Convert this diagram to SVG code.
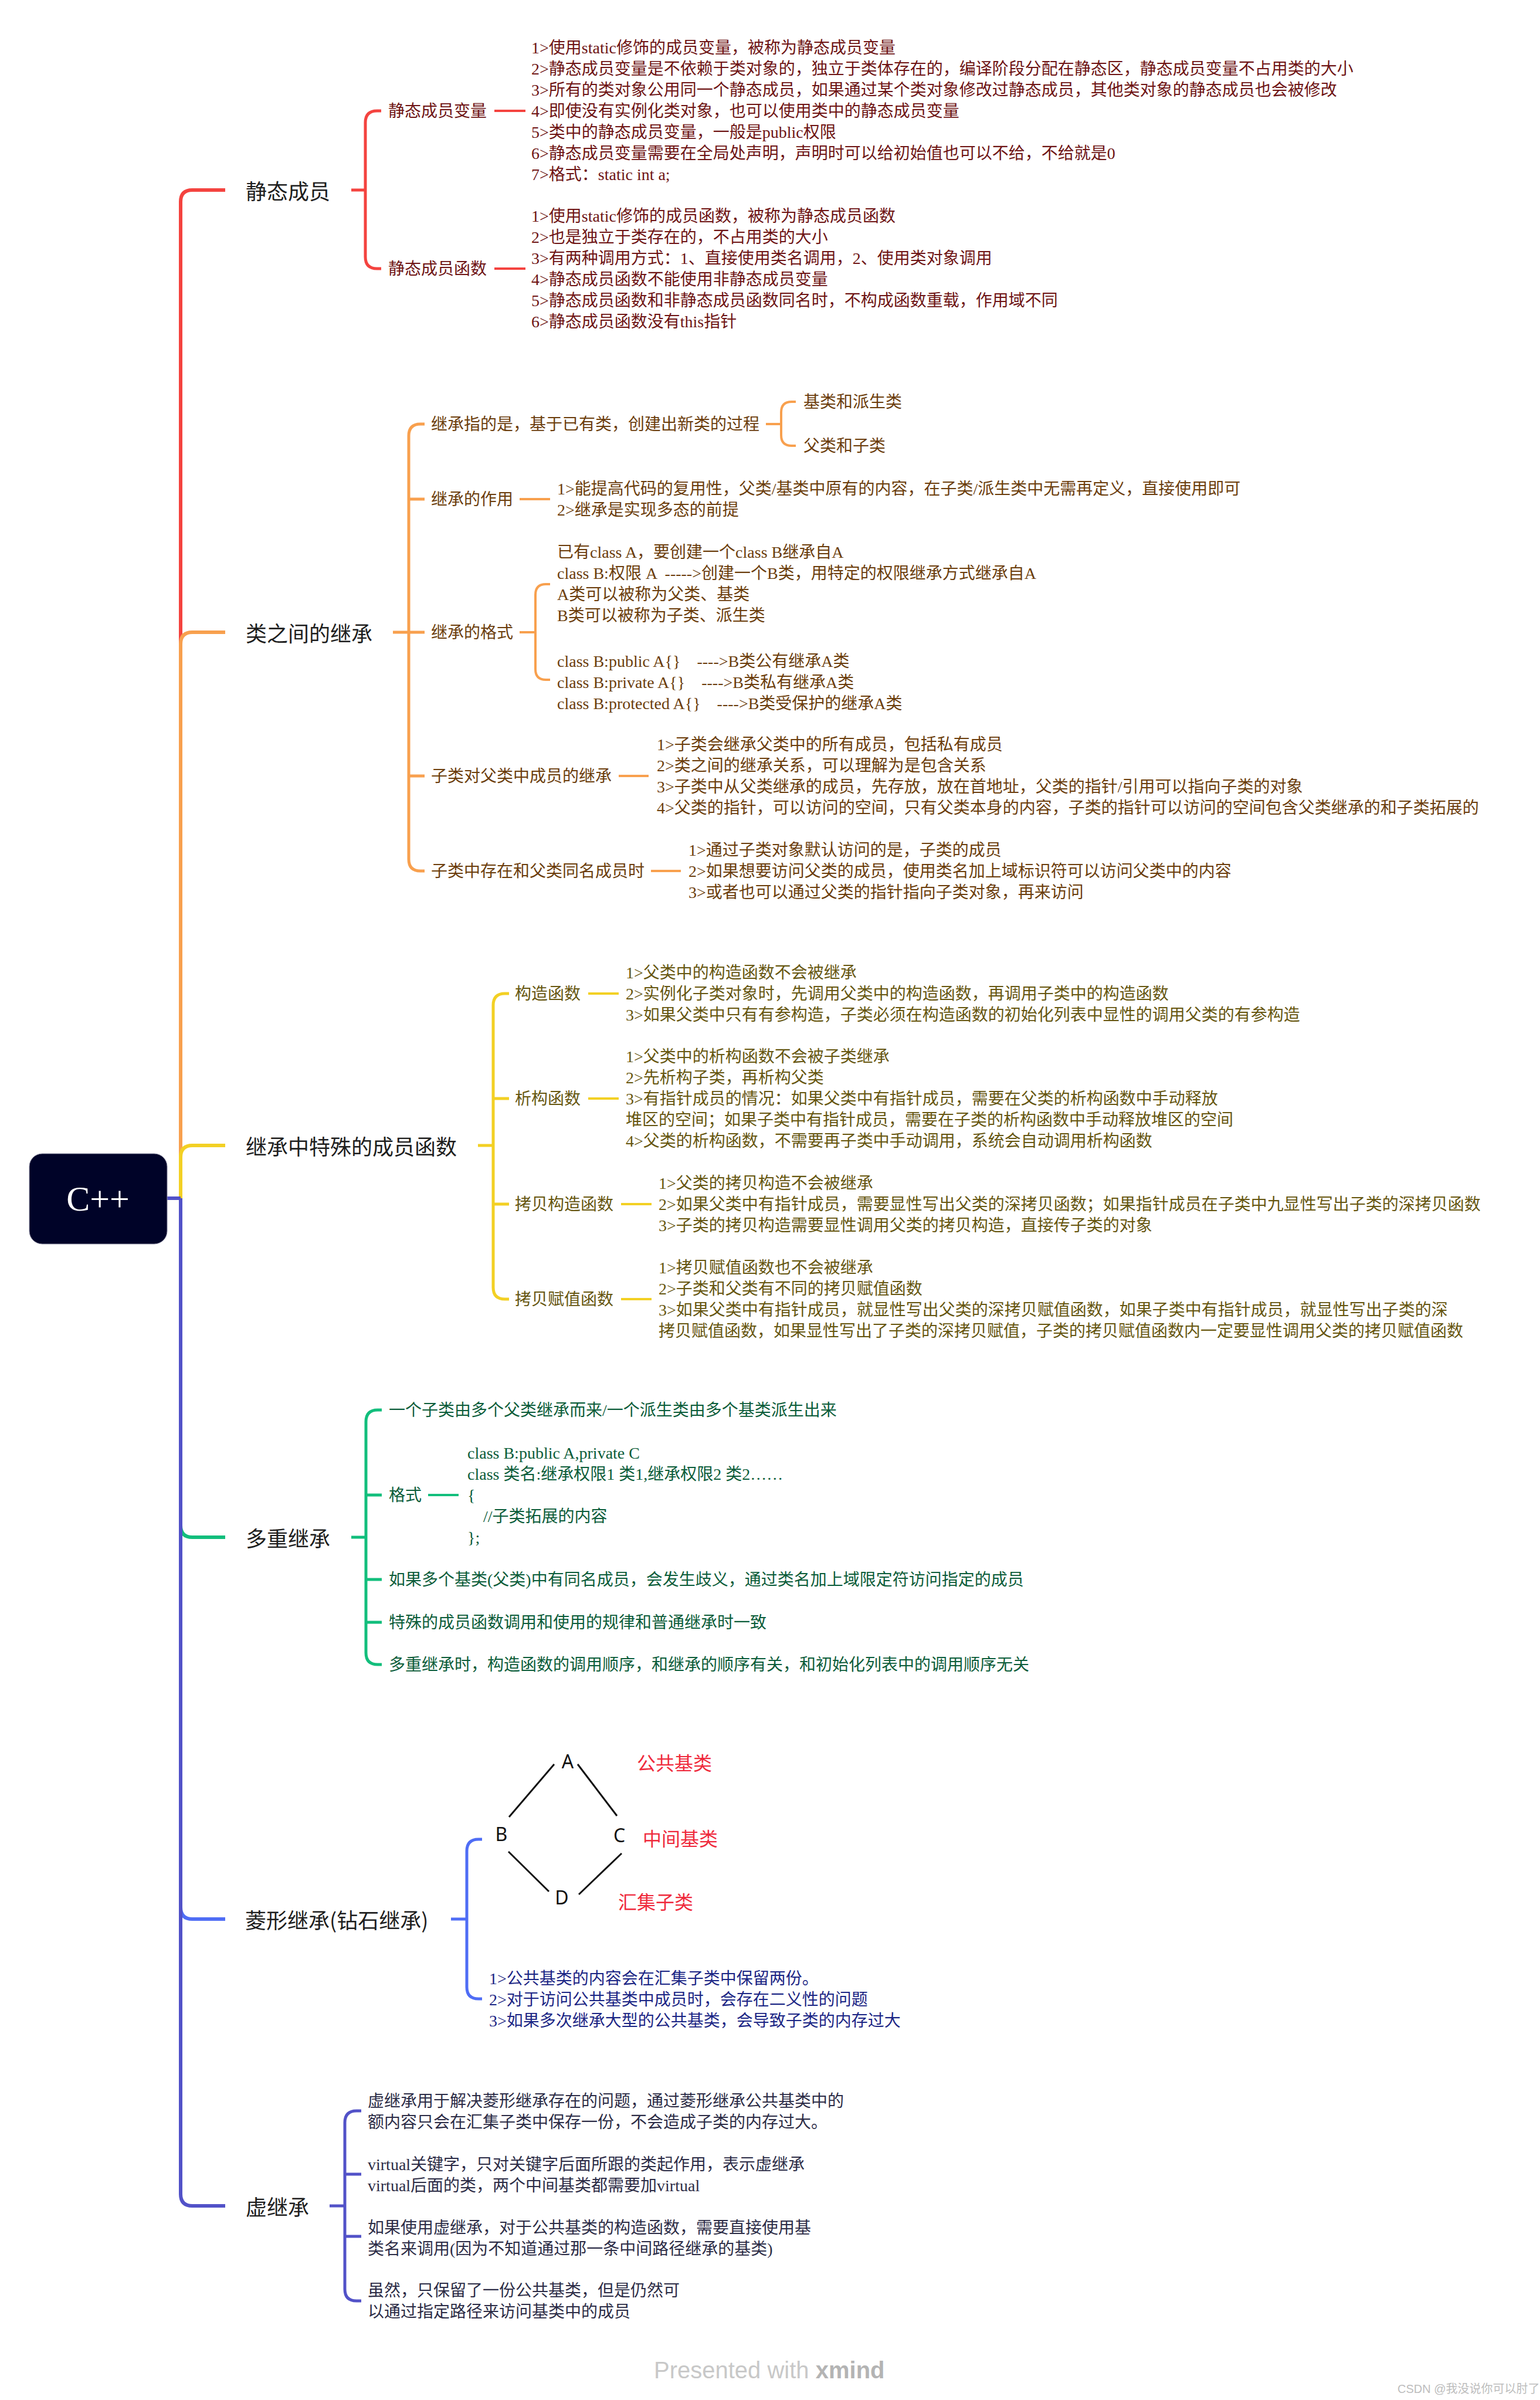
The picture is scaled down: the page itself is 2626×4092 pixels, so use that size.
<svg xmlns="http://www.w3.org/2000/svg" width="2626" height="4092" viewBox="0 0 2626 4092">
<style>
text{dominant-baseline:central;white-space:pre}
.main{font-family:"Noto Sans CJK SC",sans-serif;font-size:36px;fill:#1e1e1e}
.t{font-family:"Liberation Serif","Noto Sans CJK SC",serif;font-size:28px}
.red{fill:#6e1414}.org{fill:#6b3d0c}.yel{fill:#665610}.grn{fill:#0b5c39}.blu{fill:#1b2584}.pur{fill:#2c2c46}
.l{fill:none;stroke-linecap:butt;stroke-linejoin:round}
.m{stroke-width:6}.s{stroke-width:5}.k{stroke-width:4}
.cr{stroke:#f4433f}.co{stroke:#f8a04e}.cy{stroke:#f3d024}.cg{stroke:#12be7c}.cb{stroke:#4f6df5}.cp{stroke:#5252c8}
.lab{font-family:"Noto Sans CJK SC",sans-serif;font-size:32px;fill:#ef2a3c}
.dl{font-family:"Noto Sans",sans-serif;font-size:32px;fill:#111}
</style>
<rect width="2626" height="4092" fill="#ffffff"/>
<g id="connectors">
<path class="l m cr" d="M308,2043 V344 Q308,324 328,324 H384"/>
<path class="l m co" d="M308,2043 V1098 Q308,1078 328,1078 H384"/>
<path class="l m cy" d="M308,2043 V1973 Q308,1953 328,1953 H384"/>
<path class="l m cg" d="M308,2043 V2601 Q308,2621 328,2621 H384"/>
<path class="l m cb" d="M308,2043 V3252 Q308,3272 328,3272 H384"/>
<path class="l m cp" d="M308,2043 V3741 Q308,3761 328,3761 H384"/>
<path class="l m cp" d="M285,2043 H308"/>
<!-- static -->
<path class="l s cr" d="M599,324 H623"/>
<path class="l s cr" d="M650,189 H643 Q623,189 623,209 V438 Q623,458 643,458 H650"/>
<path class="l k cr" d="M843,189 H896 M843,458 H896"/>
<!-- inheritance -->
<path class="l s co" d="M670,1078 H724"/>
<path class="l s co" d="M724,723 H717 Q697,723 697,743 V1465 Q697,1485 717,1485 H724 M697,851 H724 M697,1323 H724"/>
<path class="l k co" d="M1306,723 H1332"/>
<path class="l k co" d="M1357,685 H1350 Q1332,685 1332,703 V742 Q1332,760 1350,760 H1357"/>
<path class="l k co" d="M886,851 H938"/>
<path class="l k co" d="M886,1078 H913"/>
<path class="l k co" d="M938,996 H931 Q913,996 913,1014 V1141 Q913,1159 931,1159 H938"/>
<path class="l k co" d="M1055,1323 H1106"/>
<path class="l k co" d="M1110,1485 H1161"/>
<!-- special member functions -->
<path class="l s cy" d="M815,1953 H841"/>
<path class="l s cy" d="M868,1694 H861 Q841,1694 841,1714 V2195 Q841,2215 861,2215 H868 M841,1873 H868 M841,2053 H868"/>
<path class="l k cy" d="M1003,1694 H1055 M1003,1873 H1055 M1059,2053 H1111 M1059,2215 H1111"/>
<!-- multiple inheritance -->
<path class="l s cg" d="M599,2621 H624"/>
<path class="l s cg" d="M651,2404 H644 Q624,2404 624,2424 V2818 Q624,2838 644,2838 H651 M624,2549 H651 M624,2693 H651 M624,2766 H651"/>
<path class="l k cg" d="M730,2549 H782"/>
<!-- diamond -->
<path class="l s cb" d="M769,3272 H796"/>
<path class="l s cb" d="M822,3136 H816 Q796,3136 796,3156 V3388 Q796,3408 816,3408 H822"/>
<!-- virtual -->
<path class="l s cp" d="M562,3761 H588"/>
<path class="l s cp" d="M616,3599 H608 Q588,3599 588,3619 V3903 Q588,3923 608,3923 H616 M588,3707 H616 M588,3813 H616"/>
</g>
<g id="root">
<rect x="50" y="1967" width="235" height="154" rx="22" fill="#000328" stroke="#8a8aa0" stroke-width="1"/>
<text x="167" y="2044" text-anchor="middle" font-family="Liberation Serif,serif" font-size="60" fill="#ffffff">C++</text>
</g>
<g id="n-static">
<text class="main" x="419" y="324">静态成员</text>
</g>
<g id="n-static-var">
<text class="t red" x="662" y="189">静态成员变量</text>
<text class="t red">
<tspan x="906" y="81">1&gt;使用static修饰的成员变量，被称为静态成员变量</tspan>
<tspan x="906" y="117">2&gt;静态成员变量是不依赖于类对象的，独立于类体存在的，编译阶段分配在静态区，静态成员变量不占用类的大小</tspan>
<tspan x="906" y="153">3&gt;所有的类对象公用同一个静态成员，如果通过某个类对象修改过静态成员，其他类对象的静态成员也会被修改</tspan>
<tspan x="906" y="189">4&gt;即使没有实例化类对象，也可以使用类中的静态成员变量</tspan>
<tspan x="906" y="225">5&gt;类中的静态成员变量，一般是public权限</tspan>
<tspan x="906" y="261">6&gt;静态成员变量需要在全局处声明，声明时可以给初始值也可以不给，不给就是0</tspan>
<tspan x="906" y="297">7&gt;格式：static int a;</tspan>
</text>
</g>
<g id="n-static-func">
<text class="t red" x="662" y="458">静态成员函数</text>
<text class="t red">
<tspan x="906" y="368">1&gt;使用static修饰的成员函数，被称为静态成员函数</tspan>
<tspan x="906" y="404">2&gt;也是独立于类存在的，不占用类的大小</tspan>
<tspan x="906" y="440">3&gt;有两种调用方式：1、直接使用类名调用，2、使用类对象调用</tspan>
<tspan x="906" y="476">4&gt;静态成员函数不能使用非静态成员变量</tspan>
<tspan x="906" y="512">5&gt;静态成员函数和非静态成员函数同名时，不构成函数重载，作用域不同</tspan>
<tspan x="906" y="548">6&gt;静态成员函数没有this指针</tspan>
</text>
</g>
<g id="n-inherit">
<text class="main" x="419" y="1078">类之间的继承</text>
</g>
<g id="n-inherit-def">
<text class="t org" x="735" y="723">继承指的是，基于已有类，创建出新类的过程</text>
<text class="t org" x="1370" y="685">基类和派生类</text>
<text class="t org" x="1370" y="760">父类和子类</text>
</g>
<g id="n-inherit-use">
<text class="t org" x="735" y="851">继承的作用</text>
<text class="t org">
<tspan x="950" y="833">1&gt;能提高代码的复用性，父类/基类中原有的内容，在子类/派生类中无需再定义，直接使用即可</tspan>
<tspan x="950" y="869">2&gt;继承是实现多态的前提</tspan>
</text>
</g>
<g id="n-inherit-fmt">
<text class="t org" x="735" y="1078">继承的格式</text>
<text class="t org">
<tspan x="950" y="941">已有class A，要创建一个class B继承自A</tspan>
<tspan x="950" y="977">class B:权限 A  -----&gt;创建一个B类，用特定的权限继承方式继承自A</tspan>
<tspan x="950" y="1013">A类可以被称为父类、基类</tspan>
<tspan x="950" y="1049">B类可以被称为子类、派生类</tspan>
<tspan x="950" y="1127">class B:public A{}    ----&gt;B类公有继承A类</tspan>
<tspan x="950" y="1163">class B:private A{}    ----&gt;B类私有继承A类</tspan>
<tspan x="950" y="1199">class B:protected A{}    ----&gt;B类受保护的继承A类</tspan>
</text>
</g>
<g id="n-inherit-member">
<text class="t org" x="735" y="1323">子类对父类中成员的继承</text>
<text class="t org">
<tspan x="1120" y="1269">1&gt;子类会继承父类中的所有成员，包括私有成员</tspan>
<tspan x="1120" y="1305">2&gt;类之间的继承关系，可以理解为是包含关系</tspan>
<tspan x="1120" y="1341">3&gt;子类中从父类继承的成员，先存放，放在首地址，父类的指针/引用可以指向子类的对象</tspan>
<tspan x="1120" y="1377">4&gt;父类的指针，可以访问的空间，只有父类本身的内容，子类的指针可以访问的空间包含父类继承的和子类拓展的</tspan>
</text>
</g>
<g id="n-inherit-same">
<text class="t org" x="735" y="1485">子类中存在和父类同名成员时</text>
<text class="t org">
<tspan x="1174" y="1449">1&gt;通过子类对象默认访问的是，子类的成员</tspan>
<tspan x="1174" y="1485">2&gt;如果想要访问父类的成员，使用类名加上域标识符可以访问父类中的内容</tspan>
<tspan x="1174" y="1521">3&gt;或者也可以通过父类的指针指向子类对象，再来访问</tspan>
</text>
</g>
<g id="n-special">
<text class="main" x="419" y="1953">继承中特殊的成员函数</text>
</g>
<g id="n-ctor">
<text class="t yel" x="878" y="1694">构造函数</text>
<text class="t yel">
<tspan x="1067" y="1658">1&gt;父类中的构造函数不会被继承</tspan>
<tspan x="1067" y="1694">2&gt;实例化子类对象时，先调用父类中的构造函数，再调用子类中的构造函数</tspan>
<tspan x="1067" y="1730">3&gt;如果父类中只有有参构造，子类必须在构造函数的初始化列表中显性的调用父类的有参构造</tspan>
</text>
</g>
<g id="n-dtor">
<text class="t yel" x="878" y="1873">析构函数</text>
<text class="t yel">
<tspan x="1067" y="1801">1&gt;父类中的析构函数不会被子类继承</tspan>
<tspan x="1067" y="1837">2&gt;先析构子类，再析构父类</tspan>
<tspan x="1067" y="1873">3&gt;有指针成员的情况：如果父类中有指针成员，需要在父类的析构函数中手动释放</tspan>
<tspan x="1067" y="1909">堆区的空间；如果子类中有指针成员，需要在子类的析构函数中手动释放堆区的空间</tspan>
<tspan x="1067" y="1945">4&gt;父类的析构函数，不需要再子类中手动调用，系统会自动调用析构函数</tspan>
</text>
</g>
<g id="n-copy-ctor">
<text class="t yel" x="878" y="2053">拷贝构造函数</text>
<text class="t yel">
<tspan x="1123" y="2017">1&gt;父类的拷贝构造不会被继承</tspan>
<tspan x="1123" y="2053">2&gt;如果父类中有指针成员，需要显性写出父类的深拷贝函数；如果指针成员在子类中九显性写出子类的深拷贝函数</tspan>
<tspan x="1123" y="2089">3&gt;子类的拷贝构造需要显性调用父类的拷贝构造，直接传子类的对象</tspan>
</text>
</g>
<g id="n-copy-assign">
<text class="t yel" x="878" y="2215">拷贝赋值函数</text>
<text class="t yel">
<tspan x="1123" y="2161">1&gt;拷贝赋值函数也不会被继承</tspan>
<tspan x="1123" y="2197">2&gt;子类和父类有不同的拷贝赋值函数</tspan>
<tspan x="1123" y="2233">3&gt;如果父类中有指针成员，就显性写出父类的深拷贝赋值函数，如果子类中有指针成员，就显性写出子类的深</tspan>
<tspan x="1123" y="2269">拷贝赋值函数，如果显性写出了子类的深拷贝赋值，子类的拷贝赋值函数内一定要显性调用父类的拷贝赋值函数</tspan>
</text>
</g>
<g id="n-multi">
<text class="main" x="419" y="2621">多重继承</text>
</g>
<g id="n-multi-def"><text class="t grn" x="663" y="2404">一个子类由多个父类继承而来/一个派生类由多个基类派生出来</text></g>
<g id="n-multi-fmt">
<text class="t grn" x="663" y="2549">格式</text>
<text class="t grn">
<tspan x="797" y="2477">class B:public A,private C</tspan>
<tspan x="797" y="2513">class 类名:继承权限1 类1,继承权限2 类2……</tspan>
<tspan x="797" y="2549">{</tspan>
<tspan x="824" y="2585">//子类拓展的内容</tspan>
<tspan x="797" y="2621">};</tspan>
</text>
</g>
<g id="n-multi-amb"><text class="t grn" x="663" y="2693">如果多个基类(父类)中有同名成员，会发生歧义，通过类名加上域限定符访问指定的成员</text></g>
<g id="n-multi-same"><text class="t grn" x="663" y="2766">特殊的成员函数调用和使用的规律和普通继承时一致</text></g>
<g id="n-multi-order"><text class="t grn" x="663" y="2838">多重继承时，构造函数的调用顺序，和继承的顺序有关，和初始化列表中的调用顺序无关</text></g>
<g id="n-diamond">
<text class="main" x="418" y="3272">菱形继承(钻石继承)</text>
</g>
<g id="n-diamond-pic">
<g stroke="#111" stroke-width="3" fill="none">
<line x1="945" y1="3008" x2="868" y2="3098"/>
<line x1="985" y1="3008" x2="1052" y2="3096"/>
<line x1="867" y1="3157" x2="936" y2="3225"/>
<line x1="1060" y1="3160" x2="987" y2="3230"/>
</g>
<text class="dl" x="968" y="3002" text-anchor="middle">A</text>
<text class="dl" x="855" y="3126" text-anchor="middle">B</text>
<text class="dl" x="1056" y="3128" text-anchor="middle">C</text>
<text class="dl" x="958" y="3234" text-anchor="middle">D</text>
<text class="lab" x="1086" y="3004">公共基类</text>
<text class="lab" x="1096" y="3133">中间基类</text>
<text class="lab" x="1054" y="3241">汇集子类</text>
</g>
<g id="n-diamond-text">
<text class="t blu">
<tspan x="834" y="3373">1&gt;公共基类的内容会在汇集子类中保留两份。</tspan>
<tspan x="834" y="3409">2&gt;对于访问公共基类中成员时，会存在二义性的问题</tspan>
<tspan x="834" y="3445">3&gt;如果多次继承大型的公共基类，会导致子类的内存过大</tspan>
</text>
</g>
<g id="n-virtual">
<text class="main" x="419" y="3761">虚继承</text>
</g>
<g id="n-virtual-1">
<text class="t pur"><tspan x="627" y="3582">虚继承用于解决菱形继承存在的问题，通过菱形继承公共基类中的</tspan><tspan x="627" y="3618">额内容只会在汇集子类中保存一份，不会造成子类的内存过大。</tspan></text>
</g>
<g id="n-virtual-2">
<text class="t pur"><tspan x="627" y="3690">virtual关键字，只对关键字后面所跟的类起作用，表示虚继承</tspan><tspan x="627" y="3726">virtual后面的类，两个中间基类都需要加virtual</tspan></text>
</g>
<g id="n-virtual-3">
<text class="t pur"><tspan x="627" y="3798">如果使用虚继承，对于公共基类的构造函数，需要直接使用基</tspan><tspan x="627" y="3834">类名来调用(因为不知道通过那一条中间路径继承的基类)</tspan></text>
</g>
<g id="n-virtual-4">
<text class="t pur"><tspan x="627" y="3905">虽然，只保留了一份公共基类，但是仍然可</tspan><tspan x="627" y="3941">以通过指定路径来访问基类中的成员</tspan></text>
</g>
<g id="watermark">
<text x="1115" y="4041" font-family="Liberation Sans,sans-serif" font-size="40" fill="#c8c8c8">Presented with <tspan font-weight="bold" fill="#b4b4b4">xmind</tspan></text>
<text x="2383" y="4073" font-family="Liberation Sans,Noto Sans CJK SC,sans-serif" font-size="20" fill="#bdbdbd">CSDN @我没说你可以肘了</text>
</g>
</svg>
